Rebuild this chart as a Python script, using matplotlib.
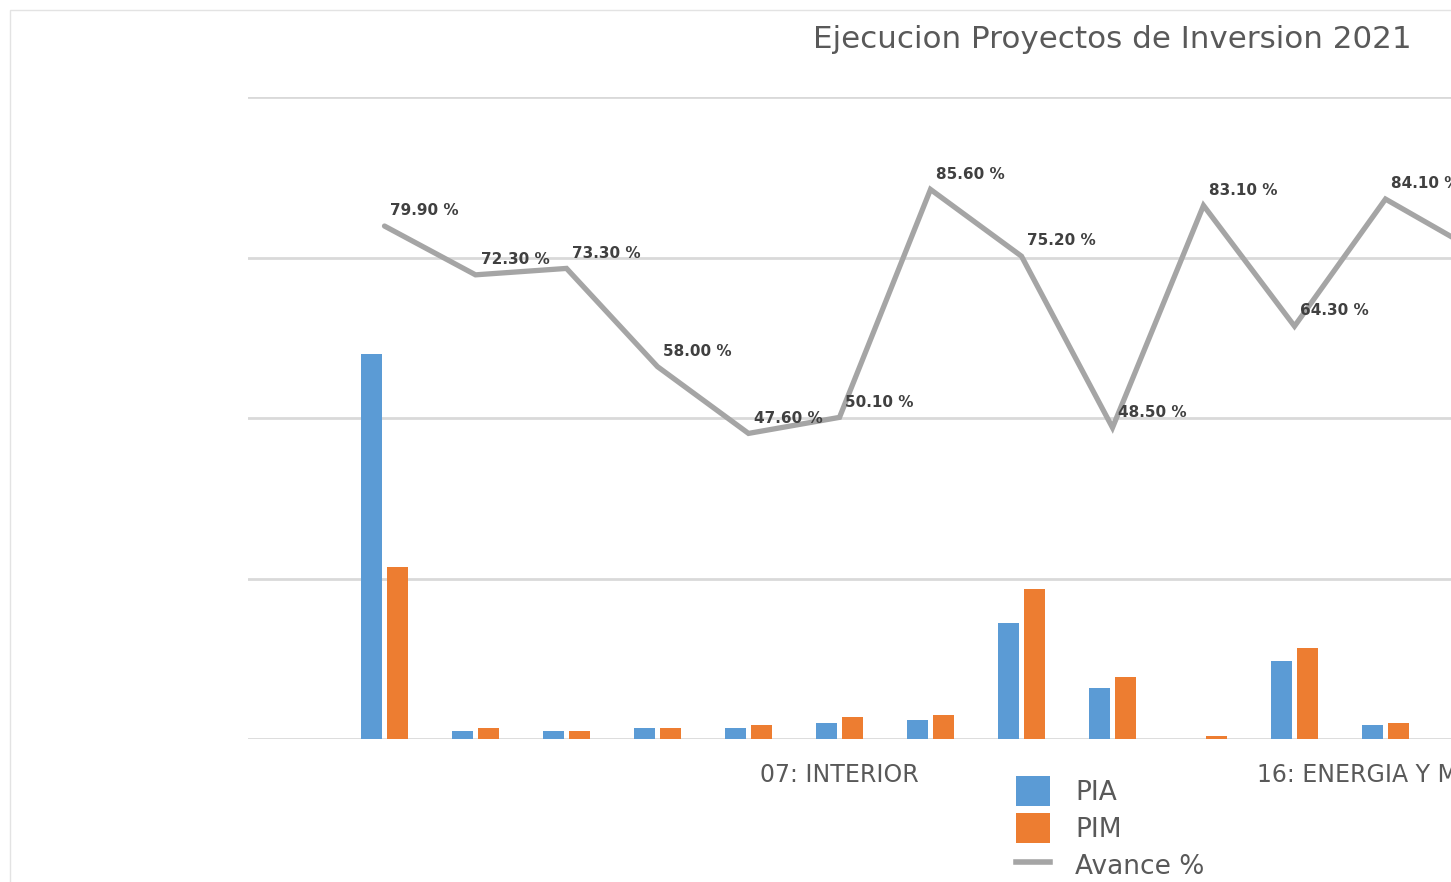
import numpy as np
import matplotlib
matplotlib.use("Agg")
import matplotlib.pyplot as plt
from matplotlib.patches import Rectangle, Patch
from matplotlib.lines import Line2D

# ---- data (bar values in arbitrary units, grid step = 2000) ----
categories = ["", "", "", "", "", "", "07: INTERIOR", "", "", "", "", "", "16: ENERGIA Y MINAS", ""]
pia = [np.nan, 4800, 100, 100, 140, 140, 200, 240, 1440, 640, 0, 975, 175, np.nan]
pim = [np.nan, 2140, 140, 100, 140, 175, 275, 300, 1875, 775, 40, 1140, 200, np.nan]
avance = [np.nan, 79.9, 72.3, 73.3, 58.0, 47.6, 50.1, 85.6, 75.2, 48.5, 83.1, 64.3, 84.1, 76.0]
series_names = ["PIA", "PIM", "Avance %"]
title = "Ejecucion Proyectos de Inversion 2021"

BLUE = "#5B9BD5"
ORANGE = "#ED7D31"
GRAY = "#A5A5A5"
GRID = "#D9D9D9"
TXT = "#595959"

W, H = 1451, 882
fig = plt.figure(figsize=(W / 100, H / 100), dpi=100)
fig.patch.set_facecolor("white")

# chart-area border (top and left visible)
fig.add_artist(Rectangle((10 / W, -0.1), 1.2, 1 - 10 / H + 0.1, transform=fig.transFigure,
                         fill=False, edgecolor="#E3E3E3", lw=1.0))

left = 248 / W
width = (14 * 91) / W
bottom = 1 - 739 / H
height = (739 - 97) / H
ax = fig.add_axes([left, bottom, width, height])
ax.set_facecolor("none")

x = np.arange(len(categories))
bw = 0.23
off = 0.143
ax.bar(x - off, pia, width=bw, color=BLUE, zorder=2)
ax.bar(x + off, pim, width=bw, color=ORANGE, zorder=2)

ax.set_xlim(-0.5, len(categories) - 0.5)
ax.set_ylim(0, 8000)
ax.set_yticks([0, 2000, 4000, 6000, 8000])
ax.yaxis.grid(True, color=GRID, lw=2.0, zorder=0)
ax.set_axisbelow(True)
ax.set_xticks(x)
ax.set_xticklabels(categories, fontsize=17, color=TXT)
ax.tick_params(axis="x", length=0, pad=17)
for s in ax.spines.values():
    s.set_visible(False)

ax2 = ax.twinx()
ax2.set_ylim(0, 100)
ax2.plot(x, avance, color=GRAY, lw=3.8, solid_capstyle="round", solid_joinstyle="miter", zorder=3)
for xi, v in zip(x, avance):
    if np.isnan(v):
        continue
    ax2.annotate(f"{v:.2f} %", (xi, v), xytext=(4, 11), textcoords="offset points",
                 ha="left", va="center", fontsize=11, fontweight="bold", color="#404040")
for a in (ax, ax2):
    a.tick_params(axis="y", left=False, right=False, labelleft=False, labelright=False)
for s in ax2.spines.values():
    s.set_visible(False)

fig.text(1112 / W, 1 - 40 / H, title, ha="center", va="center", fontsize=22.3, color=TXT)

handles = [Patch(facecolor=BLUE), Patch(facecolor=ORANGE), Line2D([], [], color=GRAY, lw=4)]
leg = fig.legend(handles, series_names, loc="upper left",
                 bbox_to_anchor=(995 / W, 1 - 755 / H), frameon=False, fontsize=19,
                 handlelength=1.3, handleheight=1.35, labelspacing=0.28, handletextpad=0.95,
                 borderpad=0.3)
for t in leg.get_texts():
    t.set_color(TXT)

fig.savefig("out.png", dpi=100)
